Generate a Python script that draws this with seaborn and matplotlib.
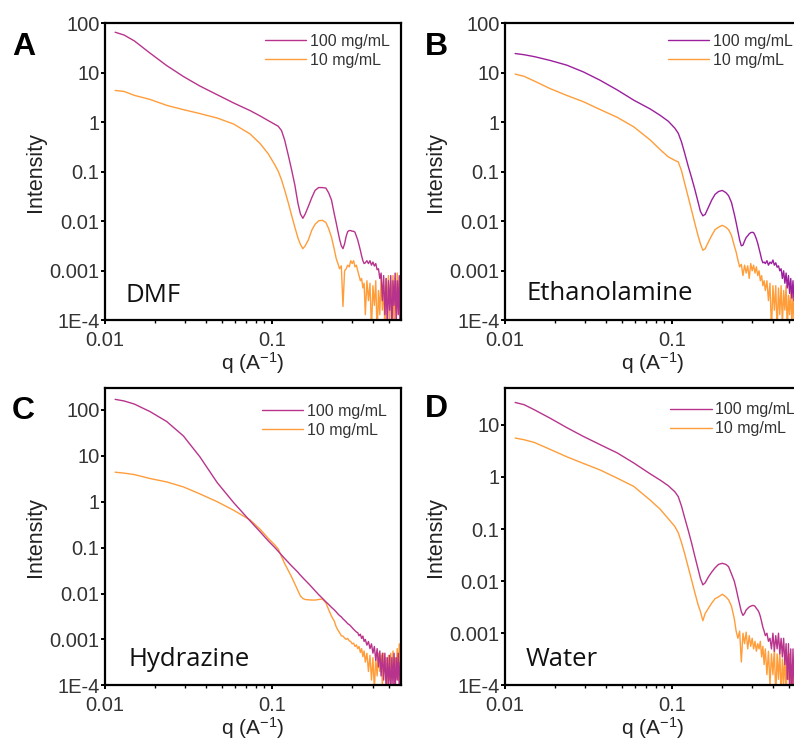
import matplotlib
matplotlib.use("Agg")
import matplotlib.pyplot as plt
import pandas as pd
import seaborn as sns
from matplotlib.ticker import FixedLocator, FixedFormatter, LogLocator, NullFormatter, NullLocator

# ---------------- data ----------------
Q_LOW = [0.0115, 0.013, 0.015, 0.0186, 0.0234, 0.0295, 0.037, 0.047, 0.059, 0.074,
         0.085, 0.095, 0.104, 0.109, 0.114, 0.119, 0.125, 0.131, 0.137, 0.143,
         0.148, 0.153, 0.158, 0.165, 0.173, 0.181, 0.19, 0.2, 0.21, 0.218,
         0.227, 0.236]
Q_MID = [0.242, 0.248, 0.254, 0.26, 0.266, 0.272, 0.278, 0.284, 0.29, 0.296,
         0.302, 0.308, 0.314, 0.32, 0.326, 0.332, 0.338, 0.344, 0.35, 0.356]
Q_TAIL = [0.362, 0.37, 0.378, 0.386, 0.394, 0.402, 0.41, 0.418, 0.426, 0.434,
          0.442, 0.45, 0.458, 0.466, 0.474, 0.482, 0.49, 0.498, 0.506, 0.514,
          0.522, 0.53, 0.538, 0.546, 0.554, 0.562, 0.57, 0.578, 0.586, 0.594]
Q = Q_LOW + Q_MID + Q_TAIL

DMF_100 = [66, 58, 44, 25, 14, 8.4, 5.4, 3.6, 2.45, 1.72,
           1.34, 1.08, 0.91, 0.83, 0.68, 0.44, 0.22, 0.11, 0.054, 0.023,
           0.014, 0.0115, 0.014, 0.020, 0.030, 0.042, 0.048, 0.048, 0.047, 0.038,
           0.027, 0.014,
           0.0095, 0.0063, 0.0043, 0.0032, 0.0028, 0.0035, 0.0050, 0.0062, 0.0065, 0.0065,
           0.0063, 0.0063, 0.0060, 0.0050, 0.0042, 0.0033, 0.0026, 0.0020, 0.0016, 0.0014,
           0.00145, 0.0016, 0.0014, 0.0016, 0.0013, 0.0015, 0.00125, 0.0014, 0.00105, 0.0011,
           7e-4, 9e-4, 2.5e-4, 8e-4, 1.3e-4, 7e-4, 6e-5, 6.3e-4, 1.6e-4, 8e-4,
           5e-5, 6.3e-4, 2e-4, 9e-4, 8e-5, 6.3e-4, 1.3e-4, 8e-4, 6e-5, 5e-4]
DMF_10 = [4.4, 4.2, 3.5, 2.9, 2.2, 1.8, 1.5, 1.22, 0.92, 0.58,
          0.37, 0.23, 0.138, 0.102, 0.069, 0.043, 0.024, 0.0132, 0.0076, 0.0046,
          0.0034, 0.0028, 0.0032, 0.0042, 0.0066, 0.0087, 0.0102, 0.0105, 0.0095, 0.0072,
          0.0048, 0.0027,
          0.0018, 0.0014, 0.0011, 0.00126, 1.9e-4, 0.001, 0.0011, 0.0013, 0.0012, 0.0016,
          0.0014, 0.0016, 0.0012, 0.0013, 0.001, 8e-4, 6.3e-4, 7e-4, 4.5e-4, 5.6e-4,
          1.3e-4, 6.3e-4, 2.5e-4, 5.6e-4, 6e-5, 5e-4, 2e-4, 6.3e-4, 5e-5, 4e-4,
          1.3e-4, 8e-4, 1.6e-4, 5e-4, 6e-5, 7e-4, 2e-4, 8e-4, 1e-4, 6.3e-4,
          2.5e-4, 8e-4, 6e-5, 5e-4, 1.6e-4, 9e-4, 2e-4, 6.3e-4, 8e-5, 1e-3]

ETH_100 = [24.5, 23.2, 21.2, 17.8, 14.3, 10.4, 7.1, 4.5, 2.8, 1.86,
           1.38, 1.05, 0.76, 0.60, 0.40, 0.24, 0.13, 0.076, 0.044, 0.025,
           0.0158, 0.0129, 0.0138, 0.019, 0.027, 0.035, 0.040, 0.042, 0.038, 0.033,
           0.024, 0.014,
           0.0095, 0.0063, 0.0042, 0.0032, 0.0033, 0.004, 0.0047, 0.0051, 0.0056, 0.0059,
           0.006, 0.0059, 0.0052, 0.0044, 0.0036, 0.0028, 0.0022, 0.0017, 0.00145, 0.0015,
           0.0014, 0.0016, 0.0013, 0.0015, 0.0014, 0.00165, 0.0013, 0.00145, 0.00118, 0.00126,
           0.001, 0.0011, 7e-4, 0.001, 5.6e-4, 9e-4, 4.5e-4, 8e-4, 3.5e-4, 7e-4,
           2.8e-4, 6.3e-4, 2.5e-4, 6.3e-4, 2e-4, 5.6e-4, 2.5e-4, 5e-4, 2e-4, 5e-4]
ETH_10 = [9.4, 8.5, 6.8, 4.8, 3.5, 2.6, 1.82, 1.26, 0.81, 0.44,
          0.28, 0.20, 0.17, 0.158, 0.105, 0.059, 0.031, 0.0166, 0.0091, 0.0052,
          0.0035, 0.0026, 0.0028, 0.0038, 0.0052, 0.0068, 0.0076, 0.0083, 0.0076, 0.0068,
          0.0052, 0.0032,
          0.0024, 0.00166, 0.0012, 0.00135, 8e-4, 0.0013, 9e-4, 0.00126, 7e-4, 0.0014,
          0.001, 0.0013, 9e-4, 0.0012, 8e-4, 0.001, 6.3e-4, 8e-4, 5e-4, 6.3e-4,
          4e-4, 6.3e-4, 2.5e-4, 5.6e-4, 6e-5, 5e-4, 1.6e-4, 5e-4, 6e-5, 4.5e-4,
          1.3e-4, 5e-4, 8e-5, 4e-4, 1.6e-4, 5e-4, 6e-5, 3.2e-4, 1.3e-4, 4e-4,
          8e-5, 3.2e-4, 1e-4, 3.2e-4, 6e-5, 2.5e-4, 1e-4, 3.2e-4, 6e-5, 2.5e-4]

HYD_100 = [170, 157, 134, 92, 56, 27, 9.5, 2.6, 0.95, 0.38,
           0.22, 0.14, 0.1, 0.083, 0.069, 0.058, 0.048, 0.040, 0.034, 0.029,
           0.025, 0.022, 0.0195, 0.0166, 0.0138, 0.0115, 0.0095, 0.0079, 0.0066, 0.0058,
           0.005, 0.0044,
           0.004, 0.0036, 0.0033, 0.0031, 0.0028, 0.0026, 0.0024, 0.0022, 0.0021, 0.00195,
           0.0018, 0.00166, 0.00155, 0.00145, 0.0014, 0.0012, 0.0013, 0.00105, 0.00118, 9e-4,
           1e-3, 7.5e-4, 9e-4, 6.3e-4, 8e-4, 5e-4, 7e-4, 3.5e-4, 6.3e-4, 2.5e-4,
           5.6e-4, 1.6e-4, 5e-4, 1.3e-4, 5e-4, 8e-5, 4e-4, 1e-4, 4.5e-4, 6e-5,
           4e-4, 1e-4, 5e-4, 6e-5, 4e-4, 1.3e-4, 5e-4, 8e-5, 3.2e-4, 6e-5]
HYD_10 = [4.4, 4.2, 3.9, 3.2, 2.7, 2.1, 1.48, 1.0, 0.65, 0.40,
          0.25, 0.158, 0.114, 0.093, 0.064, 0.045, 0.032, 0.023, 0.0162, 0.0115,
          0.0088, 0.0078, 0.0074, 0.0073, 0.0072, 0.0072, 0.0074, 0.0076, 0.0063, 0.0045,
          0.0032, 0.0025,
          0.0019, 0.0016, 0.0014, 0.0012, 0.00118, 0.00107, 0.001, 0.00105, 9.3e-4, 9e-4,
          8e-4, 8.3e-4, 7e-4, 7.6e-4, 6.3e-4, 7e-4, 5.2e-4, 6.3e-4, 4.2e-4, 5.6e-4,
          3.2e-4, 5e-4, 2e-4, 4.5e-4, 1.3e-4, 4e-4, 8e-5, 4e-4, 1.6e-4, 5e-4,
          2e-4, 4.5e-4, 1e-4, 5e-4, 2e-4, 4e-4, 6e-5, 4.5e-4, 1.3e-4, 5e-4,
          1.6e-4, 5.6e-4, 1e-4, 4e-4, 2e-4, 6.3e-4, 1.3e-4, 8e-4, 2.5e-4, 1.1e-3]

WAT_100 = [27, 24.5, 19.5, 13.5, 8.9, 6.0, 4.2, 2.9, 1.86, 1.15,
           0.87, 0.68, 0.52, 0.42, 0.275, 0.166, 0.095, 0.054, 0.030, 0.0174,
           0.0112, 0.0085, 0.0093, 0.012, 0.015, 0.018, 0.021, 0.022, 0.021, 0.019,
           0.0138, 0.010,
           0.0072, 0.005, 0.0036, 0.0026, 0.0022, 0.0024, 0.0028, 0.003, 0.0032, 0.0033,
           0.0034, 0.0034, 0.0033, 0.003, 0.0028, 0.0025, 0.0021, 0.00166, 0.0013, 0.0011,
           9e-4, 1e-3, 7e-4, 8e-4, 5e-4, 1e-3, 4.5e-4, 9e-4, 5e-4, 1e-3,
           4e-4, 8e-4, 3.5e-4, 8e-4, 2.5e-4, 6.3e-4, 1.3e-4, 6.3e-4, 8e-5, 5e-4,
           6e-5, 5e-4, 1e-4, 5.6e-4, 6e-5, 4.5e-4, 8e-5, 5e-4, 6e-5, 4e-4]
WAT_10 = [5.6, 5.2, 4.6, 3.4, 2.45, 1.82, 1.37, 0.95, 0.66, 0.36,
          0.24, 0.158, 0.112, 0.085, 0.055, 0.034, 0.0186, 0.0105, 0.006, 0.0036,
          0.0026, 0.00174, 0.0024, 0.003, 0.0038, 0.0046, 0.005, 0.0056, 0.005, 0.0044,
          0.0033, 0.0019,
          0.0011, 8e-4, 0.0011, 2.8e-4, 1e-3, 6.3e-4, 1.05e-3, 5e-4, 9e-4, 5.6e-4,
          8e-4, 5e-4, 7e-4, 4.5e-4, 6.3e-4, 5e-4, 7e-4, 3.5e-4, 5.6e-4, 2.5e-4,
          5e-4, 1.6e-4, 4.5e-4, 1e-4, 4e-4, 1.6e-4, 5e-4, 6e-5, 4e-4, 1.3e-4,
          4.5e-4, 6e-5, 3.2e-4, 1e-4, 4e-4, 6e-5, 3.2e-4, 1.3e-4, 4e-4, 6e-5,
          2.5e-4, 1e-4, 3.2e-4, 6e-5, 2.5e-4, 8e-5, 3.2e-4, 6e-5, 2.5e-4, 1e-4]

SERIES = ["100 mg/mL", "10 mg/mL"]
SOLVENTS = ["DMF", "Ethanolamine", "Hydrazine", "Water"]
LETTERS = ["A", "B", "C", "D"]
X_TICKS = [0.01, 0.1]
X_TICK_LABELS = ["0.01", "0.1"]
Y_TICKS_ALL = [1e-4, 1e-3, 1e-2, 1e-1, 1, 10, 100]
Y_TICK_LABELS_ALL = ["1E-4", "0.001", "0.01", "0.1", "1", "10", "100"]

# ---------------- style ----------------
sns.set_style("ticks")
plt.rcParams["font.family"] = ["Liberation Sans", "DejaVu Sans"]
plt.rcParams["mathtext.fontset"] = "custom"
plt.rcParams["mathtext.rm"] = "Liberation Sans"
plt.rcParams["mathtext.it"] = "Liberation Sans:italic"
plt.rcParams["mathtext.default"] = "regular"

ORANGE = "#FF9D3A"
MAGENTA = "#B8348C"
PURPLE = "#9C1F9E"

W, H = 794, 743
fig = plt.figure(figsize=(W / 100, H / 100), dpi=100)

def rect(left, top, width=296, height=297):
    return [left / W, 1 - (top + height) / H, width / W, height / H]

panels = [
    dict(data=(DMF_100, DMF_10), rect=rect(105, 23.3), ymax=100, c100=MAGENTA,
         leg=(0.54, 0.965), txt=(0.068, 0.061), letter=(12, 55)),
    dict(data=(ETH_100, ETH_10), rect=rect(505, 23.3), ymax=100, c100=PURPLE,
         leg=(0.55, 0.965), txt=(0.073, 0.067), letter=(425, 55)),
    dict(data=(HYD_100, HYD_10), rect=rect(105, 388.3), ymax=296, c100=MAGENTA,
         leg=(0.53, 0.948), txt=(0.078, 0.065), letter=(12, 419)),
    dict(data=(WAT_100, WAT_10), rect=rect(505, 388.3), ymax=50.5, c100=MAGENTA,
         leg=(0.558, 0.953), txt=(0.068, 0.065), letter=(425, 417)),
]

for p, solvent, letter in zip(panels, SOLVENTS, LETTERS):
    i100, i10 = p["data"]
    assert len(i100) == len(Q) and len(i10) == len(Q)
    ax = fig.add_axes(p["rect"])
    df = pd.DataFrame({
        "q": Q + Q,
        "I": list(i10) + list(i100),
        "conc": [SERIES[1]] * len(Q) + [SERIES[0]] * len(Q),
    })
    sns.lineplot(data=df, x="q", y="I", hue="conc", hue_order=[SERIES[1], SERIES[0]],
                 palette=[ORANGE, p["c100"]], estimator=None, sort=False,
                 lw=1.0, ax=ax, legend=False)
    ax.set_xscale("log")
    ax.set_yscale("log")
    ax.set_xlim(0.01, 0.592)
    ax.set_ylim(1e-4, p["ymax"])

    ax.xaxis.set_major_locator(FixedLocator(X_TICKS))
    ax.xaxis.set_major_formatter(FixedFormatter(X_TICK_LABELS))
    ax.xaxis.set_minor_locator(LogLocator(base=10, subs=(2, 3, 4, 5, 6, 7, 8, 9), numticks=20))
    ax.xaxis.set_minor_formatter(NullFormatter())
    yt = [t for t in Y_TICKS_ALL if t <= p["ymax"]]
    yl = [l for t, l in zip(Y_TICKS_ALL, Y_TICK_LABELS_ALL) if t <= p["ymax"]]
    ax.yaxis.set_major_locator(FixedLocator(yt))
    ax.yaxis.set_major_formatter(FixedFormatter(yl))
    ax.yaxis.set_minor_locator(NullLocator())

    ax.tick_params(axis="both", which="major", direction="out", length=3, width=1.4,
                   labelsize=14.5, labelcolor="#333333", color="black")
    ax.tick_params(axis="x", which="major", pad=4.5)
    ax.tick_params(axis="y", which="major", pad=1)
    ax.tick_params(axis="x", which="minor", direction="out", length=1.8, width=1.0, color="black")
    for s in ax.spines.values():
        s.set_linewidth(1.6)
        s.set_color("black")

    ax.set_xlabel("q (A$^{-1}$)", fontsize=15, color="#222222")
    ax.set_ylabel("Intensity", fontsize=15.5, color="#222222")
    ax.xaxis.set_label_coords(0.5, -0.102)
    ax.yaxis.set_label_coords(-0.20, 0.5)

    lines = ax.get_lines()
    leg = ax.legend(handles=[lines[1], lines[0]], labels=SERIES, loc="upper left",
                    bbox_to_anchor=p["leg"], frameon=False, fontsize=11.5,
                    handlelength=2.6, handletextpad=0.2, labelspacing=0.25,
                    borderaxespad=0, borderpad=0)
    for t in leg.get_texts():
        t.set_color("#333333")

    ax.text(p["txt"][0], p["txt"][1], solvent, transform=ax.transAxes,
            fontsize=18.5, family=["Open Sans", "DejaVu Sans"], color="#111111",
            ha="left", va="baseline")

    fig.text(p["letter"][0] / W, 1 - p["letter"][1] / H, letter, fontsize=23,
             fontweight="bold", color="black", ha="left", va="baseline")

fig.savefig("out.png", dpi=100)
